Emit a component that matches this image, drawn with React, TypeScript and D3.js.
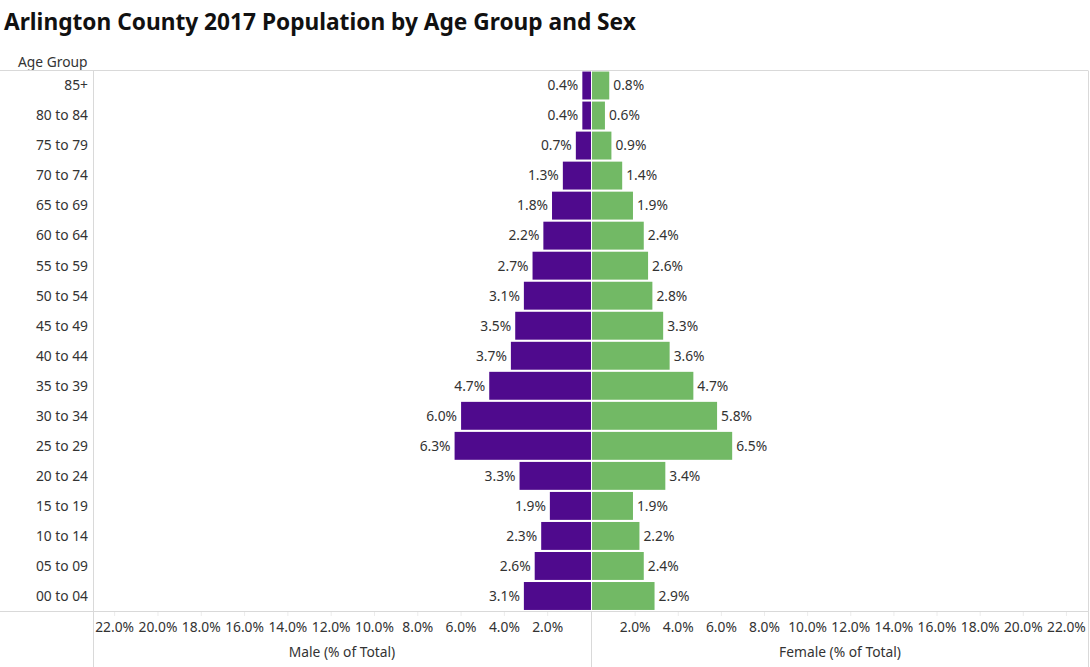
import React from "react";
import * as d3 from "d3";

const ageGroups = ["85+","80 to 84","75 to 79","70 to 74","65 to 69","60 to 64","55 to 59","50 to 54","45 to 49","40 to 44","35 to 39","30 to 34","25 to 29","20 to 24","15 to 19","10 to 14","05 to 09","00 to 04"];
const maleValues = [0.4,0.4,0.7,1.3,1.8,2.2,2.7,3.1,3.5,3.7,4.7,6.0,6.3,3.3,1.9,2.3,2.6,3.1];
const femaleValues = [0.8,0.6,0.9,1.4,1.9,2.4,2.6,2.8,3.3,3.6,4.7,5.8,6.5,3.4,1.9,2.2,2.4,2.9];
const tickValues = [2,4,6,8,10,12,14,16,18,20,22];
const title = "Arlington County 2017 Population by Age Group and Sex";

const W = 1090, H = 667;
const FONT = "'Noto Sans', sans-serif";
const TEXT = "#333333";
const GRID = "#d9d9d9";
const PURPLE = "#4f0a8d";
const GREEN = "#72b965";
const FS = 13.8;

export default function App() {
  const top = 70.5, bottom = 611;
  const leftEdge = 93, center = 591, centerF = 592, rightEdge = 1088;
  const y = d3.scaleBand<string>().domain(ageGroups).range([top, bottom]).paddingInner(0.07).paddingOuter(0.035);
  const xm = d3.scaleLinear().domain([0, 23]).range([center, leftEdge]);
  const xf = d3.scaleLinear().domain([0, 23]).range([centerF, rightEdge]);
  const fmt = (v: number) => d3.format(".1f")(v) + "%";
  return (
    <svg width={W} height={H} style={{ position: "absolute", left: 0, top: 0, display: "block", background: "#fff" }} fontFamily={FONT}>
      <text x={4} y={30} fontSize={22.7} fontWeight={700} fill="#111">{title}</text>
      <text x={18} y={67} fontSize={FS} fill={TEXT}>Age Group</text>
      <line x1={0} x2={rightEdge} y1={top} y2={top} stroke={GRID} />
      <line x1={0} x2={rightEdge} y1={bottom + 0.5} y2={bottom + 0.5} stroke={GRID} />
      <line x1={leftEdge + 0.5} x2={leftEdge + 0.5} y1={top} y2={H} stroke={GRID} />
      <line x1={rightEdge + 0.5} x2={rightEdge + 0.5} y1={top} y2={H} stroke={GRID} />
      <line x1={center + 0.5} x2={center + 0.5} y1={bottom} y2={H} stroke={GRID} />
      {ageGroups.map((g, i) => {
        const yy = y(g)!;
        const bh = y.bandwidth();
        const cy = yy + bh / 2;
        return (
          <g key={g}>
            <text x={88} y={cy} dy="0.35em" textAnchor="end" fontSize={FS} fill={TEXT}>{g}</text>
            <rect x={xm(maleValues[i])} y={yy} width={center - xm(maleValues[i])} height={bh} fill={PURPLE} />
            <rect x={centerF} y={yy} width={xf(femaleValues[i]) - centerF} height={bh} fill={GREEN} />
            <text x={xm(maleValues[i]) - 4} y={cy} dy="0.35em" textAnchor="end" fontSize={FS} fill={TEXT}>{fmt(maleValues[i])}</text>
            <text x={xf(femaleValues[i]) + 4} y={cy} dy="0.35em" textAnchor="start" fontSize={FS} fill={TEXT}>{fmt(femaleValues[i])}</text>
          </g>
        );
      })}
      {tickValues.map((t) => (
        <g key={"m" + t}>
          <line x1={xm(t)} x2={xm(t)} y1={bottom + 1} y2={bottom + 5} stroke="#ececec" />
          <text x={xm(t)} y={632} textAnchor="middle" fontSize={FS} fill={TEXT}>{fmt(t)}</text>
        </g>
      ))}
      {tickValues.map((t) => (
        <g key={"f" + t}>
          <line x1={xf(t)} x2={xf(t)} y1={bottom + 1} y2={bottom + 5} stroke="#ececec" />
          <text x={xf(t)} y={632} textAnchor="middle" fontSize={FS} fill={TEXT}>{fmt(t)}</text>
        </g>
      ))}
      <text x={(leftEdge + center) / 2} y={657} textAnchor="middle" fontSize={FS} fill={TEXT}>Male (% of Total)</text>
      <text x={(centerF + rightEdge) / 2} y={657} textAnchor="middle" fontSize={FS} fill={TEXT}>Female (% of Total)</text>
    </svg>
  );
}
